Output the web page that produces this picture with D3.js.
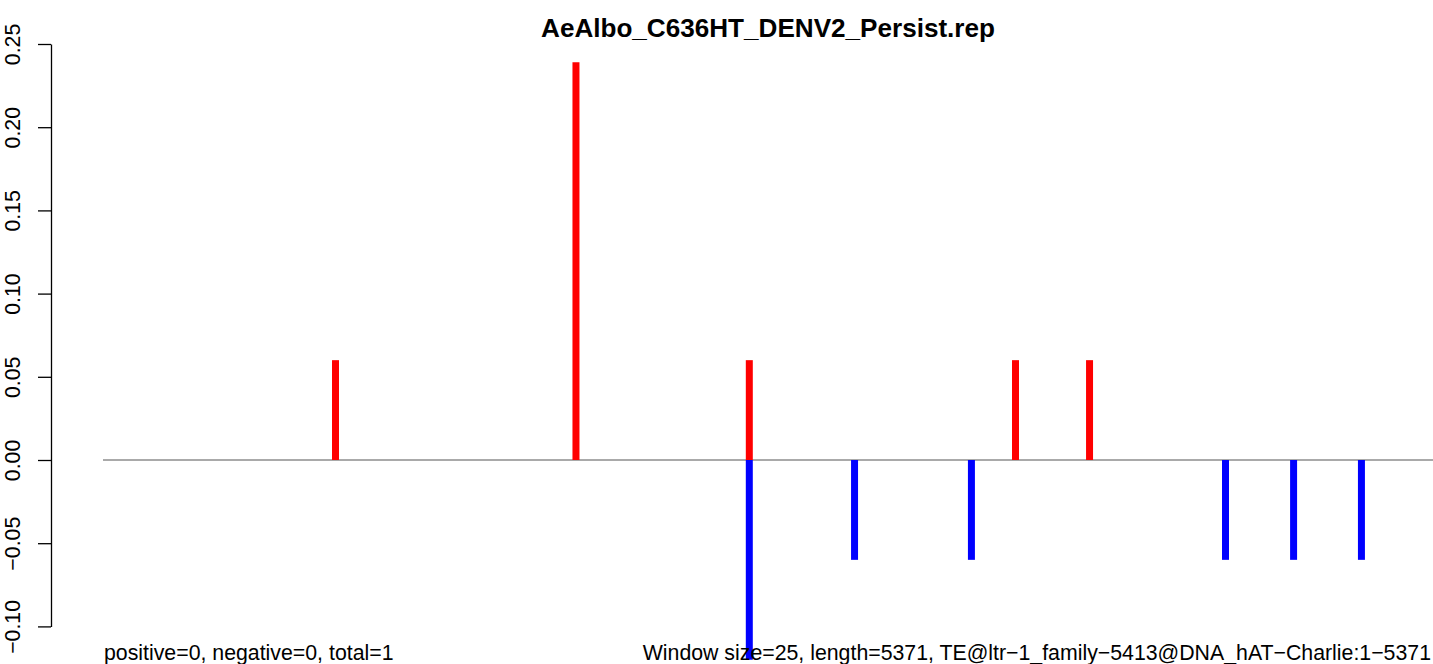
<!DOCTYPE html>
<html>
<head>
<meta charset="utf-8">
<script src="https://cdn.jsdelivr.net/npm/d3@7"></script>
<style>
  html, body { margin: 0; padding: 0; background: #fff; }
  svg { display: block; font-family: "Liberation Sans", Arial, sans-serif; }
</style>
</head>
<body>
<svg id="chart" width="1433" height="664"></svg>
<script>
// ---- data ----
const chartTitle = "AeAlbo_C636HT_DENV2_Persist.rep";
const seqLength = 5371;
const positivePositions = [939, 1910, 2610, 3685, 3984];
const positiveValues    = [0.06, 0.239, 0.06, 0.06, 0.06];
const negativePositions = [2610, 3035, 3507, 4533, 4808, 5082];
const negativeValues    = [-0.12, -0.06, -0.06, -0.06, -0.06, -0.06];
const yTicks = [-0.10, -0.05, 0.00, 0.05, 0.10, 0.15, 0.20, 0.25];
const yTickLabels = ["\u22120.10", "\u22120.05", "0.00", "0.05", "0.10", "0.15", "0.20", "0.25"];
const leftNote = "positive=0, negative=0, total=1";
const rightNote = "Window size=25, length=5371, TE@ltr\u22121_family\u22125413@DNA_hAT\u2212Charlie:1\u22125371";

// ---- layout ----
const svg = d3.select("#chart");
const x = d3.scaleLinear().domain([0, seqLength]).range([103, 1433]);
const y = d3.scaleLinear().domain([-0.10, 0.25]).range([626.4, 44]);
const axisX = 51;

// zero line
svg.append("line")
  .attr("x1", x.range()[0]).attr("x2", x.range()[1])
  .attr("y1", y(0)).attr("y2", y(0))
  .attr("stroke", "#555").attr("stroke-width", 1);

// positive bars
svg.append("g").selectAll("line")
  .data(positivePositions.map((p, i) => ({p, v: positiveValues[i]})))
  .join("line")
  .attr("x1", d => x(d.p)).attr("x2", d => x(d.p))
  .attr("y1", y(0)).attr("y2", d => y(d.v))
  .attr("stroke", "#ff0000").attr("stroke-width", 7);

// negative bars
svg.append("g").selectAll("line")
  .data(negativePositions.map((p, i) => ({p, v: negativeValues[i]})))
  .join("line")
  .attr("x1", d => x(d.p)).attr("x2", d => x(d.p))
  .attr("y1", y(0)).attr("y2", d => y(d.v))
  .attr("stroke", "#0000ff").attr("stroke-width", 7);

// y axis
const yAxis = d3.axisLeft(y)
  .tickValues(yTicks)
  .tickFormat((d, i) => yTickLabels[i])
  .tickSize(13)
  .tickSizeOuter(0);
const gy = svg.append("g").attr("transform", `translate(${axisX},0)`).call(yAxis);
gy.select(".domain").attr("stroke", "#000").attr("stroke-width", 1.3);
gy.selectAll(".tick line").attr("stroke", "#000").attr("stroke-width", 1.3);
gy.selectAll(".tick text")
  .attr("font-size", 21.3)
  .attr("font-family", "Liberation Sans, Arial, sans-serif")
  .attr("fill", "#000")
  .attr("text-anchor", "middle")
  .attr("dy", null)
  .attr("x", null)
  .attr("transform", "translate(-31,0) rotate(-90)")
  .attr("y", 0);

// title
svg.append("text")
  .attr("x", (x.range()[0] + x.range()[1]) / 2)
  .attr("y", 37)
  .attr("text-anchor", "middle")
  .attr("font-size", 26.1)
  .attr("font-weight", "bold")
  .text(chartTitle);

// bottom notes
svg.append("text")
  .attr("x", 104).attr("y", 660)
  .attr("font-size", 21.3)
  .text(leftNote);
svg.append("text")
  .attr("x", 1431).attr("y", 660)
  .attr("text-anchor", "end")
  .attr("font-size", 21.3)
  .text(rightNote);
</script>
</body>
</html>
